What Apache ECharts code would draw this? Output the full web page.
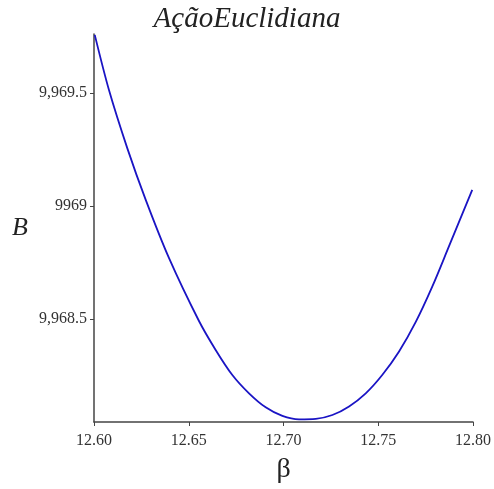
<!DOCTYPE html>
<html>
<head>
<meta charset="utf-8">
<script src="https://cdn.jsdelivr.net/npm/echarts@6.0.0/dist/echarts.min.js"></script>
<style>
  html, body { margin: 0; padding: 0; background: #fff; }
  #chart { width: 494px; height: 489px; }
</style>
</head>
<body>
<div id="chart"></div>
<script>
// values
const betaValues = [12.6004, 12.6079, 12.6176, 12.6273, 12.6396, 12.6554, 12.6642,
    12.6730, 12.6818, 12.6906, 12.6994, 12.7082, 12.7170, 12.7258, 12.7346, 12.7434,
    12.7521, 12.7609, 12.7698, 12.7785, 12.7873, 12.7996];
const bValues = [9969.757, 9969.513, 9969.255, 9969.027, 9968.769, 9968.491, 9968.363,
    9968.252, 9968.171, 9968.109, 9968.071, 9968.056, 9968.058, 9968.075, 9968.113, 9968.171,
    9968.252, 9968.355, 9968.487, 9968.643, 9968.821, 9969.071];

const xTicks = [12.60, 12.65, 12.70, 12.75, 12.80];
const yTicks = [9968.5, 9969, 9969.5];
const yTickLabels = ['9,968.5', '9969', '9,969.5'];

const chart = echarts.init(document.getElementById('chart'));

const serif = '"Liberation Serif", "DejaVu Serif", serif';
const axisColor = '#444';

let option = {
    animation: false,
    title: {
        text: 'AçãoEuclidiana',
        left: 'center',
        top: 0,
        textStyle: { fontFamily: serif, fontStyle: 'italic', fontWeight: 'normal', fontSize: 29, color: '#222' }
    },
    grid: { left: 94, right: 20, top: 34, bottom: 67 },
    xAxis: {
        type: 'value',
        min: 12.6,
        max: 12.8,
        name: 'β',
        nameLocation: 'middle',
        nameGap: 34,
        nameTextStyle: { fontFamily: serif, fontSize: 28, color: '#222' },
        splitLine: { show: false },
        axisLine: { lineStyle: { color: axisColor, width: 1.5 } },
        axisTick: { length: 4, lineStyle: { color: axisColor }, customValues: xTicks },
        axisLabel: {
            customValues: xTicks,
            margin: 11,
            fontFamily: serif, fontSize: 16, color: '#333',
            formatter: v => v.toFixed(2)
        }
    },
    yAxis: {
        type: 'value',
        min: 9968.044,
        max: 9969.761,
        name: 'B',
        nameLocation: 'middle',
        nameRotate: 0,
        nameGap: 66,
        nameTextStyle: { fontFamily: serif, fontStyle: 'italic', fontSize: 26, color: '#222' },
        splitLine: { show: false },
        axisLine: { lineStyle: { color: axisColor, width: 1.5 } },
        axisTick: { length: 4, lineStyle: { color: axisColor }, customValues: yTicks },
        axisLabel: {
            customValues: yTicks,
            margin: 7,
            fontFamily: serif, fontSize: 16, color: '#333',
            formatter: v => {
                const i = yTicks.findIndex(t => Math.abs(t - v) < 1e-6);
                return i >= 0 ? yTickLabels[i] : '';
            }
        }
    },
    series: [{
        type: 'line',
        data: betaValues.map((b, i) => [b, bValues[i]]),
        smooth: 0.3,
        showSymbol: false,
        lineStyle: { color: '#1a14c4', width: 1.8 }
    }]
};

chart.setOption(option);
</script>
</body>
</html>
